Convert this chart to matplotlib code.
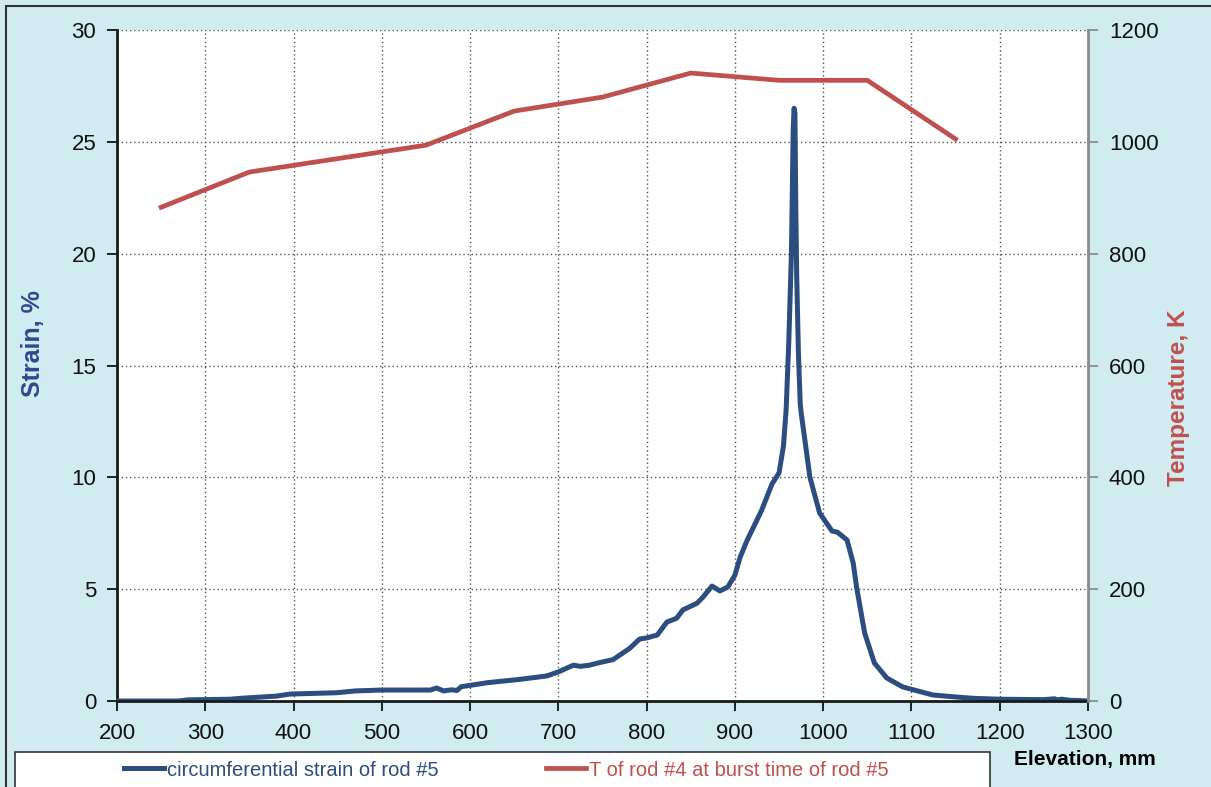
import numpy as np
import matplotlib
matplotlib.use("Agg")
import matplotlib.pyplot as plt
from matplotlib.patches import Rectangle

plt.rcParams['font.family'] = ['Liberation Sans', 'DejaVu Sans']

# circumferential strain of rod #5 (elevation mm, strain %)
strain_x = [200, 270, 280, 328, 340, 381, 396, 449, 470, 500, 555, 562, 570, 579,
            585, 590, 620, 657, 687, 700, 717, 725, 735, 747, 762, 781, 792, 800,
            812, 823, 834, 841, 857, 864, 874, 883, 892, 900, 906, 914, 930, 942,
            950, 955, 958, 961, 964, 966, 967, 968, 969, 970, 972, 974, 975, 985,
            996, 1010, 1016, 1027, 1034, 1038, 1047, 1058, 1072, 1090, 1124, 1144,
            1170, 1200, 1250, 1262, 1265, 1270, 1280, 1290, 1300]
strain_y = [0.0, 0.0, 0.05, 0.08, 0.12, 0.22, 0.31, 0.37, 0.45, 0.49, 0.49, 0.58, 0.45, 0.5,
            0.47, 0.64, 0.82, 0.97, 1.12, 1.3, 1.6, 1.55, 1.6, 1.72, 1.85, 2.36, 2.77, 2.82,
            2.95, 3.53, 3.7, 4.07, 4.37, 4.65, 5.14, 4.92, 5.1, 5.63, 6.44, 7.2, 8.5, 9.7,
            10.2, 11.4, 13.0, 16.0, 20.0, 25.5, 26.5, 26.3, 22.0, 19.0, 15.5, 13.3, 12.9, 10.0,
            8.4, 7.6, 7.55, 7.2, 6.17, 5.05, 3.04, 1.7, 1.03, 0.63, 0.27, 0.2,
            0.12, 0.08, 0.06, 0.1, 0.05, 0.08, 0.03, 0.02, 0.0]

# T of rod #4 at burst time of rod #5 (elevation mm, K)
temp_x = [250, 350, 450, 550, 650, 750, 850, 950, 1050, 1150]
temp_y = [883, 946, 970, 994, 1055, 1080, 1123, 1110, 1110, 1005]

blue = '#2c4d80'
red = '#c0504d'
bg = '#d0ecf0'

fig = plt.figure(figsize=(12.11, 7.87), dpi=100)
fig.patch.set_facecolor(bg)
ax = fig.add_axes([117/1211, 86/787, 971/1211, 671/787])
ax2 = ax.twinx()

l1, = ax.plot(strain_x, strain_y, color=blue, lw=3.6, zorder=3,
              solid_joinstyle='round', label='circumferential strain of rod #5')
l2, = ax2.plot(temp_x, temp_y, color=red, lw=3.4,
               label='T of rod #4 at burst time of rod #5')

ax.set_xlim(200, 1300)
ax.set_ylim(0, 30)
ax2.set_ylim(0, 1200)
ax.set_xticks(np.arange(200, 1301, 100))
ax.set_yticks(np.arange(0, 31, 5))
ax2.set_yticks(np.arange(0, 1201, 200))

ax.grid(True, color='#555555', linestyle=(0, (1, 2)), linewidth=1.0)
ax.set_axisbelow(True)

ax.spines['top'].set_visible(False)
ax2.spines['top'].set_visible(False)
ax.spines['left'].set_linewidth(2)
ax.spines['left'].set_color('#1a1a1a')
ax.spines['bottom'].set_linewidth(2)
ax.spines['bottom'].set_color('#1a1a1a')
ax.spines['bottom'].set_zorder(4)
ax2.spines['right'].set_color('#8c8c8c')
ax2.spines['right'].set_linewidth(2)
ax2.spines['left'].set_visible(False)
ax2.spines['bottom'].set_visible(False)

ax.tick_params(axis='both', direction='out', length=7, width=1.3, labelsize=16,
               colors='#111111')
ax.tick_params(axis='y', pad=8)
ax.tick_params(axis='x', pad=9)
ax2.tick_params(axis='y', direction='out', length=7, width=1.3, labelsize=16,
                color='#8c8c8c', labelcolor='#111111', pad=8)

fig.text(33/1211, 1 - 344/787, 'Strain, %', rotation=90, ha='center', va='center',
         fontsize=18, fontweight='bold', color='#2e4a8e')
fig.text(1178/1211, 1 - 398/787, 'Temperature, K', rotation=90, ha='center', va='center',
         fontsize=17.5, fontweight='bold', color=red)
fig.text(1085/1211, 1 - 760/787, 'Elevation, mm', ha='center', va='center',
         fontsize=15, fontweight='bold', color='black')

# legend box
fig.patches.append(Rectangle((15/1211, -0.01), 975/1211, 35/787 + 0.01,
                             transform=fig.transFigure, facecolor='white',
                             edgecolor='#333333', linewidth=1.2))
leg = fig.legend(handles=[l1, l2], loc='center left', ncol=2,
                 bbox_to_anchor=(116/1211, 1 - 770/787),
                 fontsize=14.5, frameon=False, handlelength=2.0,
                 handletextpad=0.15, columnspacing=5.3, borderaxespad=0,
                 labelcolor='linecolor')

fig.patches.append(Rectangle((6/1211, -0.01), 1.0, 1 - 6/787 + 0.01,
                             transform=fig.transFigure, fill=False,
                             edgecolor='#333333', linewidth=1.5))

fig.savefig('out.png', dpi=100, facecolor=bg)
